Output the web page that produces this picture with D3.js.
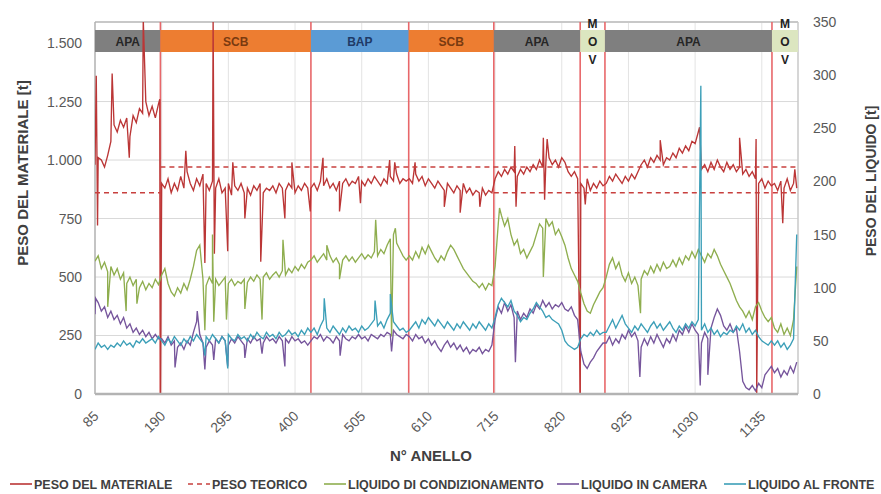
<!DOCTYPE html>
<html>
<head>
<meta charset="utf-8">
<script src="https://cdn.jsdelivr.net/npm/d3@7"></script>
<style>
  body { margin: 0; background: #fff; }
  svg { display: block; font-family: "Liberation Sans", Arial, sans-serif; }
</style>
</head>
<body>
<svg id="chart" width="881" height="494"></svg>
<script>
// ring numbers: one sample every 5 rings starting at 85
const ringStart = 85;
const ringStep = 5;
const ringEnd = 1192;

const xTicks = [85, 190, 295, 400, 505, 610, 715, 820, 925, 1030, 1135];
const leftTicks = [0, 250, 500, 750, 1000, 1250, 1500];
const rightTicks = [0, 50, 100, 150, 200, 250, 300, 350];

// lithology bands along the top
const bandNames = ['APA', 'SCB', 'BAP', 'SCB', 'APA', 'MOV', 'APA', 'MOV'];
const bandStarts = [85, 188, 425, 579, 713, 849, 888, 1151];
const boundaries = [188, 425, 579, 713, 849, 888, 1151];

// theoretical weight [from ring, to ring, t]
const teoricoAlto = [[188, 1192, 970]];
const teoricoBasso = [[85, 188, 860], [713, 1192, 860]];

// PESO DEL MATERIALE [t] (left axis)
const peso = [
  980, 1010, 1000, 970, 1020, 1080, 1150, 1120, 1170, 1140, 1180, 1100, 1190, 1160, 1220, 1200, 1250, 1190, 1230, 1180, 1240,
  900, 880, 920, 860, 900, 870, 930, 880, 950, 900, 870, 920, 890, 940, 900, 870, 910, 880, 920, 860, 880, 900, 850, 890, 870, 900, 860, 880, 850, 890, 870, 900, 860, 880, 870, 890, 860, 900, 880, 870, 900, 880, 860, 890, 870, 900, 880,
  880, 900, 870, 910, 890, 920, 880, 900, 870, 910, 900, 920, 890, 910, 900, 930, 910, 890, 920, 900, 930, 910, 890, 920, 900, 930, 910, 940, 900, 920, 910,
  920, 900, 940, 910, 930, 890, 920, 900, 880, 910, 890, 870, 900, 880, 860, 890, 870, 900, 860, 880, 850, 870, 860, 880, 850, 870, 860,
  920, 950, 930, 960, 940, 970, 950, 930, 960, 940, 970, 950, 980, 960, 1000, 970, 990, 1010, 980, 1000, 970, 1010, 990, 950, 930, 950, 920,
  900, 880, 920, 870, 900, 880, 910, 890,
  900, 930, 910, 940, 920, 900, 930, 910, 940, 920, 950, 980, 1000, 970, 1010, 990, 1020, 1000, 980, 1010, 1000, 1030, 1010, 1050, 1030, 1060, 1040, 1080, 1070, 1120, 960, 980, 950, 990, 960, 1000, 970, 950, 990, 960, 980, 950, 970, 940, 960, 930, 950, 920, 900, 920, 880, 910, 890,
  900, 870, 910, 880, 920, 870, 900, 880
];
const pesoSpikes = [[87, 1360], [89, 720], [112, 1370], [139, 1010], [161, 1600], [187, 1260], [188, 0], [228, 1040], [258, 560],
  [271, 1600], [273, 600], [294, 610], [302, 990], [321, 750], [346, 565], [384, 750], [395, 990], [424, 780], [444, 1010],
  [470, 780], [503, 815], [549, 1000], [557, 990], [589, 990], [635, 800], [660, 775], [691, 800], [746, 1060], [748, 800],
  [791, 1095], [793, 830], [797, 1090], [849, 0], [857, 810], [975, 1085], [1037, 1140], [1100, 1095], [1126, 1090], [1127, 0],
  [1168, 730], [1187, 960]];

// LIQUIDO DI CONDIZIONAMENTO [t] (right axis)
const condizionamento = [
  125, 130, 118, 124, 115, 120, 112, 118, 108, 114, 104, 110, 102, 108, 100, 106, 98, 104, 100, 108, 103,
  112, 118, 104, 96, 92, 100, 95, 104, 98, 108, 120, 135, 140, 108, 102, 110, 104, 108, 102, 106, 110, 104, 108, 102, 106, 104, 108, 105, 110, 106, 112, 108, 110, 114, 108, 112, 115, 110, 116, 112, 118, 114, 120, 116, 122, 118, 124,
  126, 130, 124, 128, 132, 126, 130, 124, 128, 122, 126, 130, 125, 129, 124, 128, 132, 127, 131, 128, 134, 130, 136, 132, 140, 146, 150, 142, 136, 130, 126,
  130, 126, 134, 128, 138, 132, 140, 134, 128, 124, 130, 126, 134, 140, 136, 130, 124, 118, 114, 110, 106, 104, 100, 104, 98, 104, 102,
  120, 160, 168, 158, 165, 150, 140, 145, 132, 136, 128, 134, 140, 150, 160, 156, 165, 158, 162, 150, 155, 148, 140, 128, 118, 112, 106,
  95, 85, 78, 76, 84, 90, 96, 100,
  110, 122, 128, 118, 124, 112, 106, 114, 104, 110, 102, 108, 116, 112, 120, 114, 122, 116, 124, 118, 120, 126, 120, 128, 122, 130, 126, 134, 128, 136, 130, 124, 132, 128, 136, 130, 122, 116, 110, 104, 96, 88, 82, 78, 72, 78, 70, 82, 86, 78, 72, 68, 72,
  62, 58, 66, 56, 62, 55, 70, 120
];
const condSpikes = [[105, 82], [134, 78], [151, 85], [258, 60], [270, 150], [272, 68], [292, 70], [321, 80], [348, 70],
  [381, 145], [450, 140], [470, 108], [527, 164], [552, 54], [558, 156], [722, 175], [791, 110], [944, 76]];

// LIQUIDO IN CAMERA [t] (right axis)
const camera = [
  75, 86, 78, 82, 72, 78, 70, 74, 66, 72, 62, 66, 58, 62, 56, 60, 54, 58, 52, 56, 52,
  52, 48, 54, 46, 50, 44, 48, 42, 50, 46, 58, 68, 56, 48, 44, 50, 46, 52, 48, 54, 50, 46, 52, 48, 54, 50, 46, 52, 48, 54, 50, 52, 48, 54, 50, 52, 48, 54, 50, 52, 48, 54, 50, 52, 48, 50, 46,
  50, 54, 52, 56, 50, 54, 52, 48, 54, 50, 56, 52, 50, 54, 52, 56, 52, 54, 50, 56, 54, 52, 56, 54, 58, 56, 60, 56, 54, 52, 56,
  54, 50, 56, 52, 54, 48, 52, 46, 50, 44, 40, 46, 50, 44, 48, 42, 46, 40, 44, 38, 42, 40, 44, 38, 42, 40, 46,
  70, 82, 76, 86, 78, 84, 72, 78, 70, 76, 72, 80, 76, 84, 80, 88, 82, 86, 80, 84, 82, 86, 80, 78, 82, 74, 70,
  40, 28, 24, 30, 34, 40, 44, 48,
  48, 54, 46, 52, 48, 56, 52, 60, 54, 58, 50, 44, 52, 46, 54, 48, 56, 50, 44, 52, 48, 56, 50, 60, 56, 64, 58, 66, 60, 56, 48, 58, 52, 62, 72, 80, 74, 64, 60, 66, 58, 62, 40, 12, 6, 4, 8, 3, 10, 6, 18, 22, 26,
  20, 24, 16, 22, 18, 26, 20, 30
];
const cameraSpikes = [[86, 90], [211, 25], [246, 78], [258, 23], [272, 32], [294, 26], [321, 34], [348, 38], [384, 26],
  [471, 36], [552, 40], [747, 30], [943, 16], [1038, 8], [1050, 18]];

// LIQUIDO AL FRONTE [t] (right axis)
const fronte = [
  42, 48, 44, 46, 42, 46, 44, 48, 45, 50, 46, 48, 44, 50, 48, 52, 48, 50, 52, 48, 54,
  50, 46, 52, 48, 54, 50, 46, 52, 48, 54, 50, 56, 52, 48, 54, 50, 56, 52, 48, 54, 50, 56, 52, 50, 56, 52, 54, 50, 56, 52, 58, 54, 52, 58, 54, 56, 52, 58, 54, 56, 60, 56, 58, 54, 60, 56, 62,
  58, 62, 56, 64, 70, 62, 58, 64, 60, 56, 62, 58, 64, 60, 62, 58, 64, 60, 62, 66, 70, 64, 68, 62, 70, 76, 68, 64, 60, 62, 58,
  60, 64, 68, 62, 70, 66, 72, 68, 64, 70, 66, 62, 68, 64, 60, 66, 62, 68, 64, 60, 66, 62, 68, 64, 60, 66, 62,
  72, 84, 90, 86, 82, 88, 78, 74, 68, 72, 70, 76, 80, 86, 82, 78, 72, 74, 70, 68, 66, 60, 50, 46, 44, 42, 44,
  52, 56, 54, 58, 55, 60, 56, 58,
  58, 64, 70, 62, 68, 74, 66, 62, 58, 64, 60, 66, 62, 58, 64, 68, 62, 66, 60, 64, 68, 62, 58, 64, 60, 66, 62, 68, 64, 70, 60, 66, 58, 62, 56, 60, 54, 58, 56, 60, 58, 64, 60, 66, 58, 62, 56, 60, 54, 50, 48, 46, 50,
  46, 50, 44, 48, 42, 46, 52, 150
];
const fronteSpikes = [[258, 36], [294, 24], [446, 90], [526, 88], [550, 94], [1039, 290]];

// ---- layout ----
const plot = { left: 95, right: 798, top: 22, bottom: 394 };
const svg = d3.select('#chart');

const x = d3.scaleLinear().domain([ringStart, ringEnd]).range([plot.left, plot.right]);
const yL = d3.scaleLinear().domain([0, 1590]).range([plot.bottom, plot.top]);
const yR = d3.scaleLinear().domain([0, 350]).range([plot.bottom, plot.top]);

function merge(vals, spikes) {
  const pts = vals.map((v, i) => [ringStart + i * ringStep, v]);
  return pts.concat(spikes).sort((a, b) => a[0] - b[0]);
}

svg.append('defs').append('clipPath').attr('id', 'clip')
  .append('rect')
  .attr('x', plot.left).attr('y', plot.top)
  .attr('width', plot.right - plot.left).attr('height', plot.bottom - plot.top);

// gridlines
svg.append('g').selectAll('line')
  .data(leftTicks.filter(d => d > 0))
  .enter().append('line')
  .attr('x1', plot.left).attr('x2', plot.right)
  .attr('y1', d => yL(d)).attr('y2', d => yL(d))
  .attr('stroke', '#d9d9d9').attr('stroke-width', 1);

svg.append('g').selectAll('line')
  .data(xTicks.slice(1))
  .enter().append('line')
  .attr('x1', d => x(d)).attr('x2', d => x(d))
  .attr('y1', plot.top).attr('y2', plot.bottom)
  .attr('stroke', '#e3e3e3').attr('stroke-width', 1);

// frame
svg.append('line').attr('x1', plot.left).attr('x2', plot.right).attr('y1', plot.top).attr('y2', plot.top)
  .attr('stroke', '#c8c8c8').attr('stroke-width', 2);
svg.append('line').attr('x1', plot.right).attr('x2', plot.right).attr('y1', plot.top).attr('y2', plot.bottom)
  .attr('stroke', '#c8c8c8').attr('stroke-width', 1.5);
svg.append('line').attr('x1', plot.left).attr('x2', plot.left).attr('y1', plot.top).attr('y2', plot.bottom)
  .attr('stroke', '#b0b0b0').attr('stroke-width', 1.5);

// band header
const bandFill = { APA: '#7f7f7f', SCB: '#ed7d31', BAP: '#5b9bd5', MOV: '#dce6c0' };
const bandText = { APA: '#262626', SCB: '#7a3a10', BAP: '#1f3a66', MOV: '#222' };
const bands = bandNames.map((n, i) => ({ name: n, start: bandStarts[i], end: i < bandNames.length - 1 ? bandStarts[i + 1] : ringEnd }));

// boundary lines
svg.append('g').selectAll('line')
  .data(boundaries)
  .enter().append('line')
  .attr('x1', d => x(d)).attr('x2', d => x(d))
  .attr('y1', plot.top).attr('y2', plot.bottom)
  .attr('stroke', '#e8676a').attr('stroke-width', 1.6);

const bandG = svg.append('g');
bandG.selectAll('rect')
  .data(bands)
  .enter().append('rect')
  .attr('x', d => x(d.start)).attr('y', 30)
  .attr('width', d => x(d.end) - x(d.start)).attr('height', 22)
  .attr('fill', d => bandFill[d.name]);

bandG.selectAll('text.band')
  .data(bands.filter(d => d.name !== 'MOV'))
  .enter().append('text')
  .attr('class', 'band')
  .attr('x', d => (x(d.start) + x(d.end)) / 2)
  .attr('y', 45.5)
  .attr('text-anchor', 'middle')
  .attr('font-size', 12).attr('font-weight', 'bold')
  .attr('fill', d => bandText[d.name])
  .text(d => d.name);

bands.filter(d => d.name === 'MOV').forEach(d => {
  d.name.split('').forEach((ch, j) => {
    bandG.append('text')
      .attr('x', (x(d.start) + x(d.end)) / 2)
      .attr('y', 28 + j * 18)
      .attr('text-anchor', 'middle')
      .attr('font-size', 12).attr('font-weight', 'bold')
      .attr('fill', bandText.MOV)
      .text(ch);
  });
});

// series
const lineL = d3.line().x(d => x(d[0])).y(d => yL(d[1]));
const lineR = d3.line().x(d => x(d[0])).y(d => yR(d[1]));
const series = svg.append('g').attr('clip-path', 'url(#clip)');

series.append('path').datum(merge(peso, pesoSpikes))
  .attr('d', lineL).attr('fill', 'none').attr('stroke', '#bb3636').attr('stroke-width', 1.35);

teoricoAlto.concat(teoricoBasso).forEach(s => {
  series.append('path').datum([[s[0], s[2]], [s[1], s[2]]])
    .attr('d', lineL).attr('fill', 'none')
    .attr('stroke', '#c8403e').attr('stroke-width', 1.4).attr('stroke-dasharray', '5,4');
});

series.append('path').datum(merge(condizionamento, condSpikes))
  .attr('d', lineR).attr('fill', 'none').attr('stroke', '#8fae4f').attr('stroke-width', 1.35);
series.append('path').datum(merge(camera, cameraSpikes))
  .attr('d', lineR).attr('fill', 'none').attr('stroke', '#76559c').attr('stroke-width', 1.35);
series.append('path').datum(merge(fronte, fronteSpikes))
  .attr('d', lineR).attr('fill', 'none').attr('stroke', '#3c9fb8').attr('stroke-width', 1.35);

// axes
const fmt = d => d3.format(',')(d).replace(',', '.');

const axL = svg.append('g').attr('transform', `translate(${plot.left},0)`)
  .call(d3.axisLeft(yL).tickValues(leftTicks).tickSize(0).tickPadding(13).tickFormat(fmt));
const axR = svg.append('g').attr('transform', `translate(${plot.right},0)`)
  .call(d3.axisRight(yR).tickValues(rightTicks).tickSize(0).tickPadding(15));
const axB = svg.append('g').attr('transform', `translate(0,${plot.bottom})`)
  .call(d3.axisBottom(x).tickValues(xTicks).tickSize(0).tickFormat(d3.format('d')));

[axL, axR, axB].forEach(a => {
  a.select('.domain').remove();
  a.selectAll('text').attr('font-size', 14).attr('fill', '#595959')
    .attr('font-family', '"Liberation Sans", Arial, sans-serif');
});
axB.selectAll('text')
  .attr('y', 0).attr('dy', 0)
  .attr('text-anchor', 'end')
  .attr('transform', 'translate(4,23) rotate(-45)');

svg.append('line').attr('x1', plot.left).attr('x2', plot.right).attr('y1', plot.bottom).attr('y2', plot.bottom)
  .attr('stroke', '#b3b3b3').attr('stroke-width', 2.5);

// titles
svg.append('text').attr('x', 431).attr('y', 461).attr('text-anchor', 'middle')
  .attr('font-size', 15).attr('font-weight', 'bold').attr('fill', '#404040').text('N° ANELLO');
svg.append('text').attr('transform', 'translate(28,173) rotate(-90)').attr('text-anchor', 'middle')
  .attr('font-size', 15).attr('font-weight', 'bold').attr('fill', '#404040').text('PESO DEL MATERIALE [t]');
svg.append('text').attr('transform', 'translate(876,181) rotate(-90)').attr('text-anchor', 'middle')
  .attr('font-size', 14).attr('font-weight', 'bold').attr('fill', '#404040').text('PESO DEL LIQUIDO [t]');

// legend
const legendItems = [
  { label: 'PESO DEL MATERIALE', color: '#bb3636', dash: null, x0: 10 },
  { label: 'PESO TEORICO', color: '#c8403e', dash: '5,4', x0: 188 },
  { label: 'LIQUIDO DI CONDIZIONAMENTO', color: '#8fae4f', dash: null, x0: 324 },
  { label: 'LIQUIDO IN CAMERA', color: '#76559c', dash: null, x0: 557 },
  { label: 'LIQUIDO AL FRONTE', color: '#3c9fb8', dash: null, x0: 724 }
];
const lg = svg.append('g').attr('transform', 'translate(0,484)');
legendItems.forEach(it => {
  lg.append('line').attr('x1', it.x0).attr('x2', it.x0 + 22).attr('y1', 0).attr('y2', 0)
    .attr('stroke', it.color).attr('stroke-width', 1.6).attr('stroke-dasharray', it.dash);
  lg.append('text').attr('x', it.x0 + 24).attr('y', 4.5)
    .attr('font-size', 12.5).attr('font-weight', 'bold').attr('fill', '#404040').text(it.label);
});
</script>
</body>
</html>
